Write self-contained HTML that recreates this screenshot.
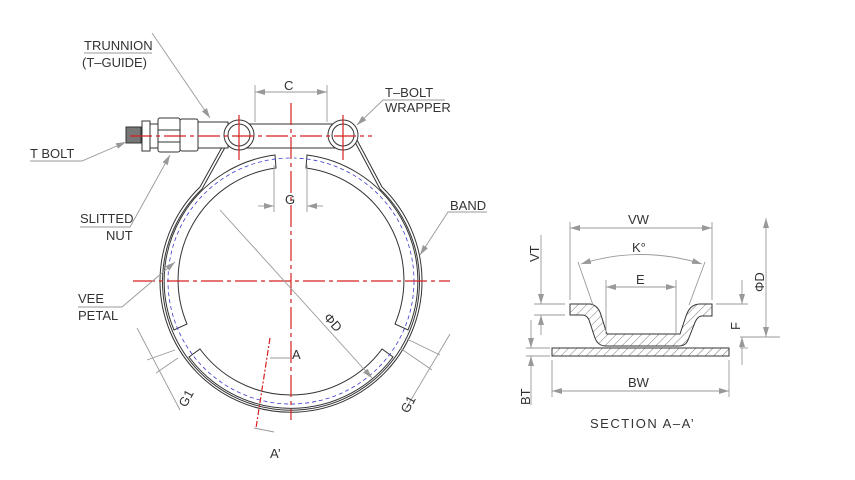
<!DOCTYPE html>
<html><head><style>
html,body{margin:0;padding:0;background:#fff;}
svg{display:block;}
text{font-family:"Liberation Sans",sans-serif;fill:#333;font-size:13px;}
</style></head><body>
<svg width="855" height="480" viewBox="0 0 855 480" xmlns="http://www.w3.org/2000/svg">
<defs>
<marker id="ar" viewBox="0 0 10 6" refX="10" refY="3" markerWidth="10" markerHeight="6" orient="auto-start-reverse" markerUnits="userSpaceOnUse"><path d="M0,0 L10,3 L0,6z" fill="#999"/></marker>
<pattern id="hatch" width="6" height="6" patternUnits="userSpaceOnUse" patternTransform="rotate(45)"><line x1="0" y1="0" x2="0" y2="6" stroke="#555" stroke-width="0.8"/></pattern>
</defs>
<g fill="none" stroke="#333" stroke-width="1">
<path d="M382,187 A131,131 0 1 1 200,187"/>
<path d="M380,189 A128.5,128.5 0 1 1 202,189"/>
<path d="M200,187 L226,140 M202,189 L228,142"/>
<path d="M382,187 L357,140 M380,189 L355,142"/>
<path d="M306,168 A113,113 0 0 1 395,324 L408,330 A127,127 0 0 0 307,155 Z"/>
<path d="M276,168 A113,113 0 0 0 187,324 L174,330 A127,127 0 0 1 275,155 Z"/>
<path d="M382,349 A113,113 0 0 1 200,349 L189,357 A127,127 0 0 0 393,357 Z"/>
</g>
<circle cx="291" cy="281" r="123" fill="none" stroke="#3a3acc" stroke-width="0.8" stroke-dasharray="4,3"/>
<rect x="290" y="153" width="4" height="20" fill="#fff"/>
<g fill="#fff" stroke="#333" stroke-width="1">
<rect x="126" y="127" width="15" height="16" fill="#777"/>
<rect x="142" y="121" width="8" height="30"/>
<rect x="150" y="124" width="8" height="24"/>
<rect x="158" y="118" width="22" height="34" rx="2"/>
<rect x="180" y="119" width="18" height="32" rx="2"/>
<rect x="198" y="122" width="30" height="26"/>
<rect x="239" y="124" width="104" height="24"/>
<circle cx="239" cy="135" r="15"/><circle cx="239" cy="135" r="11"/>
<circle cx="343" cy="135" r="15"/><circle cx="343" cy="135" r="11"/>
</g>
<line x1="158" y1="130" x2="180" y2="130" stroke="#333"/><line x1="158" y1="142" x2="180" y2="142" stroke="#333"/>
<g stroke="#d62020" stroke-width="1.2" fill="none" stroke-dasharray="22,4,4,4">
<line x1="130" y1="136" x2="372" y2="136"/>
<line x1="291" y1="103" x2="291" y2="420"/>
<line x1="133" y1="281" x2="450" y2="281"/>
<line x1="239" y1="115" x2="239" y2="160" stroke-dasharray="none"/>
<line x1="343" y1="115" x2="343" y2="160" stroke-dasharray="none"/>
<line x1="270" y1="338" x2="256" y2="428" stroke-dasharray="6,2,2,2"/>
</g>
<g stroke="#999" stroke-width="0.9" fill="none">
<line x1="255" y1="85" x2="255" y2="122"/><line x1="327" y1="85" x2="327" y2="122"/>
<line x1="255" y1="92" x2="327" y2="92" marker-start="url(#ar)" marker-end="url(#ar)"/>
<line x1="274" y1="165" x2="274" y2="212"/><line x1="307" y1="165" x2="307" y2="212"/>
<line x1="258" y1="206" x2="274" y2="206" marker-end="url(#ar)"/><line x1="323" y1="206" x2="307" y2="206" marker-end="url(#ar)"/>
<line x1="220" y1="210" x2="372" y2="378" marker-end="url(#ar)"/>
<line x1="152" y1="33" x2="210" y2="118" marker-end="url(#ar)"/>
<polyline points="84,53 152,53"/>
<polyline points="30,161 82,161 126,142" marker-end="url(#ar)"/>
<polyline points="80,227 130,227 170,155" marker-end="url(#ar)"/>
<polyline points="78,307 122,307 175,262" marker-end="url(#ar)"/>
<polyline points="487,212 448,212 420,255" marker-end="url(#ar)"/>
<polyline points="445,100 383,100 357,125" marker-end="url(#ar)"/>
<line x1="175" y1="350" x2="147" y2="360"/><line x1="178" y1="358" x2="156" y2="373"/>
<line x1="137" y1="328" x2="180" y2="410"/>
<line x1="405" y1="338" x2="440" y2="355"/><line x1="400" y1="348" x2="432" y2="370"/>
<line x1="450" y1="334" x2="405" y2="410"/>
<line x1="270" y1="358" x2="290" y2="358"/><line x1="254" y1="428" x2="274" y2="432"/>
</g>
<g fill="#333" font-size="13">
<text x="84" y="50">TRUNNION</text><text x="82" y="67">(T–GUIDE)</text>
<text x="30" y="158">T  BOLT</text>
<text x="80" y="223">SLITTED</text><text x="106" y="240">NUT</text>
<text x="78" y="303">VEE</text><text x="78" y="320">PETAL</text>
<text x="450" y="210">BAND</text>
<text x="385" y="97">T–BOLT</text><text x="385" y="112">WRAPPER</text>
<text x="284" y="90" font-size="14">C</text>
<text x="285" y="204" font-size="14">G</text>
<text x="292" y="359" font-size="15">A</text>
<text x="270" y="458" font-size="16">A’</text>
<text transform="translate(323,318) rotate(48)" font-size="16">ΦD</text>
<text transform="translate(186,408) rotate(-62)" font-size="14">G1</text>
<text transform="translate(408,414) rotate(-62)" font-size="14">G1</text>
</g>
<rect x="552" y="348" width="177" height="8" fill="url(#hatch)" stroke="#333"/>
<path d="M570,304 L590,304 Q598,305 601,315 L607,334 L680,334 L686,316 Q690,304 700,304 L712,304 L712,316 L702,316 Q697,316 694,325 L688,340 Q686,346 678,346 L606,346 Q598,346 595,338 L589,320 Q587,315 582,315 L570,315 Z" fill="url(#hatch)" stroke="#333"/>
<g stroke="#999" stroke-width="0.9" fill="none">
<line x1="570" y1="222" x2="570" y2="300"/><line x1="712" y1="222" x2="712" y2="300"/>
<line x1="570" y1="228" x2="712" y2="228" marker-start="url(#ar)" marker-end="url(#ar)"/>
<line x1="578" y1="262" x2="593" y2="305"/><line x1="705" y1="262" x2="689" y2="305"/>
<path d="M581,264 Q641,245 702,264" marker-start="url(#ar)" marker-end="url(#ar)"/>
<line x1="606" y1="280" x2="606" y2="334"/><line x1="676" y1="280" x2="676" y2="334"/>
<line x1="606" y1="287" x2="676" y2="287" marker-start="url(#ar)" marker-end="url(#ar)"/>
<line x1="552" y1="360" x2="552" y2="397"/><line x1="729" y1="360" x2="729" y2="397"/>
<line x1="552" y1="391" x2="729" y2="391" marker-start="url(#ar)" marker-end="url(#ar)"/>
<line x1="534" y1="304" x2="565" y2="304"/><line x1="534" y1="315" x2="565" y2="315"/>
<line x1="541" y1="235" x2="541" y2="304" marker-end="url(#ar)"/><line x1="541" y1="335" x2="541" y2="315" marker-end="url(#ar)"/>
<line x1="526" y1="348" x2="550" y2="348"/><line x1="526" y1="356" x2="550" y2="356"/>
<line x1="531" y1="320" x2="531" y2="348" marker-end="url(#ar)"/><line x1="531" y1="405" x2="531" y2="356" marker-end="url(#ar)"/>
<line x1="716" y1="304" x2="748" y2="304"/><line x1="740" y1="337" x2="780" y2="337"/><line x1="740" y1="348" x2="748" y2="348"/>
<line x1="742" y1="280" x2="742" y2="304" marker-end="url(#ar)"/><line x1="742" y1="365" x2="742" y2="337" marker-end="url(#ar)"/>
<line x1="766" y1="218" x2="766" y2="337" marker-start="url(#ar)" marker-end="url(#ar)"/>
</g>
<g fill="#333">
<text x="628" y="224" font-size="15">VW</text>
<text x="632" y="252" font-size="15">K°</text>
<text x="636" y="284" font-size="15">E</text>
<text x="628" y="387" font-size="15">BW</text>
<text x="590" y="428" font-size="16" letter-spacing="1.5">SECTION  A–A’</text>
<text transform="translate(539,262) rotate(-90)" font-size="15">VT</text>
<text transform="translate(530,405) rotate(-90)" font-size="15">BT</text>
<text transform="translate(740,330) rotate(-90)" font-size="15">F</text>
<text transform="translate(764,292) rotate(-90)" font-size="15">ΦD</text>
</g>
</svg>
</body></html>
